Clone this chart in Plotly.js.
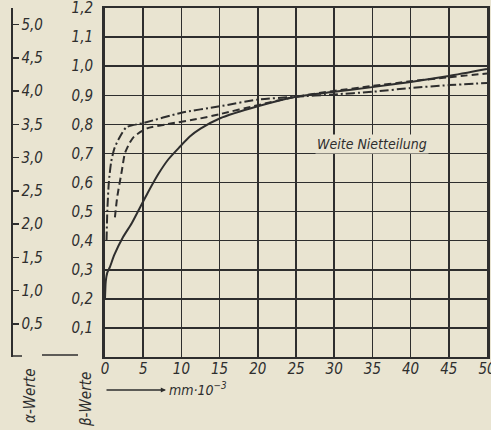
<!DOCTYPE html>
<html>
<head>
<meta charset="utf-8">
<script src="https://cdn.plot.ly/plotly-3.0.1.min.js"></script>
<style>
html,body{margin:0;padding:0;background:#e9e4d1;}
#chart{width:491px;height:430px;}
</style>
</head>
<body>
<div id="chart"></div>
<script>
// ---- data ----
const dashdotX = [0.2, 0.3, 0.5, 0.8, 1.2, 1.8, 2.8, 5.1, 10, 15, 20, 25, 30, 35, 40, 45, 50];
const dashdotY = [0.40, 0.50, 0.60, 0.67, 0.715, 0.75, 0.79, 0.805, 0.84, 0.862, 0.885, 0.895, 0.903, 0.912, 0.925, 0.935, 0.942];

const dashedX = [1.3, 1.6, 2.2, 2.6, 3.2, 3.8, 5.5, 8, 12.4, 15, 20, 25, 30, 35, 40, 45, 50];
const dashedY = [0.48, 0.55, 0.64, 0.70, 0.735, 0.758, 0.786, 0.80, 0.82, 0.835, 0.866, 0.895, 0.915, 0.932, 0.948, 0.962, 0.975];

const solidX = [0, 0.1, 0.3, 0.65, 1.2, 2.4, 3.5, 4.6, 5.6, 7, 8.3, 9.8, 11.1, 12.5, 15, 20, 25, 30, 35, 40, 45, 50];
const solidY = [0.20, 0.26, 0.29, 0.31, 0.35, 0.414, 0.46, 0.515, 0.565, 0.63, 0.68, 0.723, 0.758, 0.785, 0.82, 0.862, 0.895, 0.912, 0.928, 0.946, 0.966, 0.99];

const xTicks = [0, 5, 10, 15, 20, 25, 30, 35, 40, 45, 50];
const xTickText = ["0", "5", "10", "15", "20", "25", "30", "35", "40", "45", "50"];
const betaTicks = [0.1, 0.2, 0.3, 0.4, 0.5, 0.6, 0.7, 0.8, 0.9, 1.0, 1.1, 1.2];
const betaTickText = ["0,1", "0,2", "0,3", "0,4", "0,5", "0,6", "0,7", "0,8", "0,9", "1,0", "1,1", "1,2"];
const alphaTicks = [0.5, 1.0, 1.5, 2.0, 2.5, 3.0, 3.5, 4.0, 4.5, 5.0];
const alphaTickText = ["0,5", "1,0", "1,5", "2,0", "2,5", "3,0", "3,5", "4,0", "4,5", "5,0"];

const curveLabel = "Weite Nietteilung";
const xUnit = "mm·10<sup>−3</sup>";
const alphaName = "α-Werte";
const betaName = "β-Werte";

// ---- styling ----
const ink = '#2e2e2e';
const bg = '#e9e4d1';
const fam = 'DejaVu Sans Condensed, DejaVu Sans, sans-serif';
const fnt = (s) => ({family: fam, size: s, color: ink, style: 'italic'});

const W = 491, H = 430, ML = 0, MR = 4, MT = 8, MB = 73;
const PW = W - ML - MR, PH = H - MT - MB;
const px = (x) => (x - ML) / PW;
const py = (y) => (H - MB - y) / PH;

const traces = [
  {x: dashdotX, y: dashdotY, mode: 'lines', line: {color: ink, width: 2, dash: '9px,3px,2px,3px', shape: 'spline', smoothing: 0.6}, hoverinfo: 'skip'},
  {x: dashedX, y: dashedY, mode: 'lines', line: {color: ink, width: 2, dash: '7px,4px', shape: 'spline', smoothing: 0.6}, hoverinfo: 'skip'},
  {x: solidX, y: solidY, mode: 'lines', line: {color: ink, width: 2, shape: 'spline', smoothing: 0.6}, hoverinfo: 'skip'},
  {x: [0], y: [0], yaxis: 'y2', mode: 'markers', marker: {opacity: 0}, hoverinfo: 'skip'}
];

const layout = {
  width: W, height: H,
  margin: {l: ML, r: MR, t: MT, b: MB},
  paper_bgcolor: bg, plot_bgcolor: bg,
  showlegend: false,
  xaxis: {
    domain: [px(105), 1], range: [0, 50.001],
    tickvals: xTicks, ticktext: xTickText,
    showgrid: true, gridcolor: ink, gridwidth: 1.5,
    showline: true, linecolor: ink, linewidth: 2, mirror: true,
    ticks: '', zeroline: false, ticklabeloverflow: 'allow',
    tickfont: fnt(15), ticklabelstandoff: -3
  },
  yaxis: {
    range: [0, 1.2001],
    tickvals: betaTicks, ticktext: betaTickText,
    showgrid: true, gridcolor: ink, gridwidth: 1.5,
    showline: true, linecolor: ink, linewidth: 3, mirror: true,
    ticks: '', zeroline: false, ticklabeloverflow: 'allow',
    tickfont: fnt(15), ticklabelstandoff: 6
  },
  yaxis2: {
    overlaying: 'y', anchor: 'free', position: px(11), side: 'right',
    range: [0, 5.25],
    tickvals: alphaTicks, ticktext: alphaTickText,
    showgrid: false, zeroline: false,
    showline: true, linecolor: ink, linewidth: 1.5,
    ticks: 'outside', ticklen: 6, tickwidth: 1.5, tickcolor: ink,
    tickfont: fnt(15), ticklabelstandoff: 0
  },
  annotations: [
    {xref: 'x', yref: 'y', x: 35, y: 0.732, text: curveLabel, showarrow: false,
     font: fnt(14), bgcolor: bg, borderpad: 1},
    {xref: 'paper', yref: 'paper', x: px(167), y: py(389), xanchor: 'left', yanchor: 'middle',
     text: xUnit, showarrow: false, font: fnt(14)},
    {xref: 'paper', yref: 'paper', x: px(166), y: py(390), text: '', showarrow: true,
     ax: -61, ay: 0, arrowhead: 2, arrowsize: 0.8, arrowwidth: 1.3, arrowcolor: ink},
    {xref: 'paper', yref: 'paper', x: px(30), y: py(396), xanchor: 'center', yanchor: 'middle',
     text: alphaName, textangle: -90, showarrow: false, font: fnt(15)},
    {xref: 'paper', yref: 'paper', x: px(86), y: py(399), xanchor: 'center', yanchor: 'middle',
     text: betaName, textangle: -90, showarrow: false, font: fnt(15)}
  ],
  shapes: [
    {type: 'line', xref: 'paper', yref: 'paper', x0: px(11), x1: px(22), y0: py(356), y1: py(356),
     line: {color: ink, width: 1.5}},
    {type: 'line', xref: 'paper', yref: 'paper', x0: px(42), x1: px(78), y0: py(355), y1: py(355),
     line: {color: ink, width: 1.5}}
  ]
};

Plotly.newPlot('chart', traces, layout, {staticPlot: true, displayModeBar: false});
</script>
</body>
</html>
